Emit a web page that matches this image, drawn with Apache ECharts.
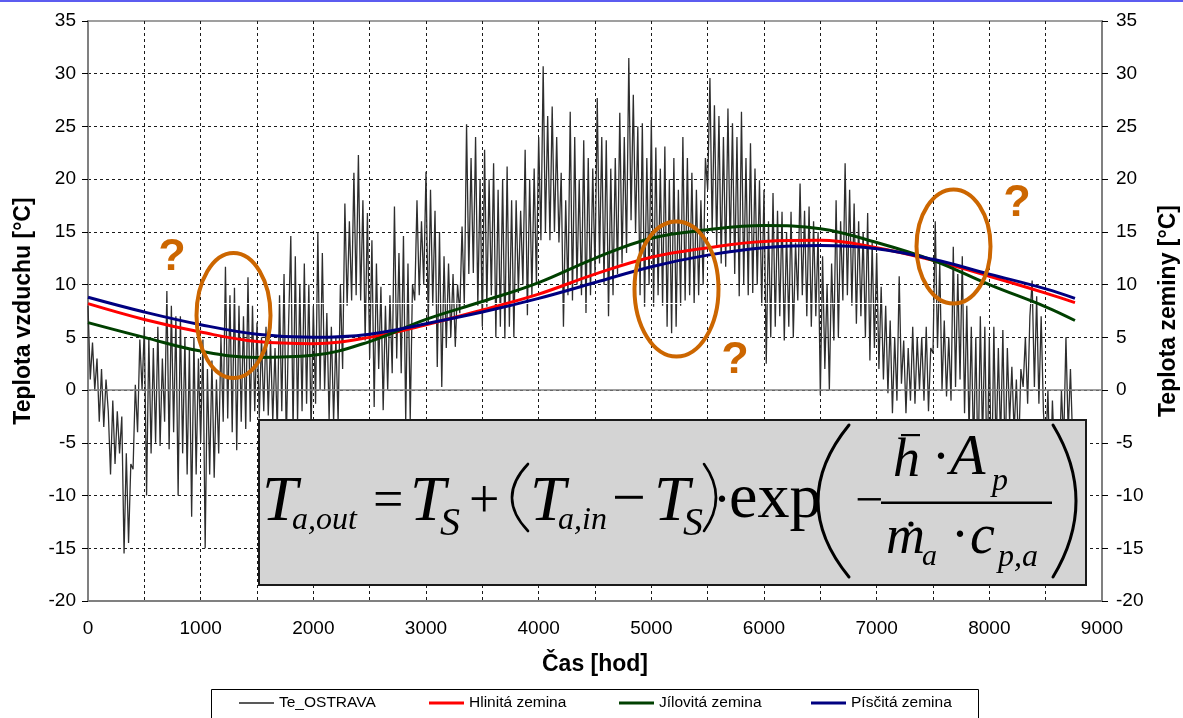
<!DOCTYPE html>
<html><head><meta charset="utf-8">
<script src="https://cdn.jsdelivr.net/npm/echarts@6/dist/echarts.min.js"></script>
<style>html,body{margin:0;padding:0;background:#fff}#c{width:1183px;height:718px}</style>
</head><body><div id="c"></div>
<script>
// ---- data ----
const OSTRAVA_STEP_H = 20; // sampling step of the outdoor temperature record [h]
const ostravaTemps = [
 8,1,4.5,0,3, -3,2,-3.5,1,-2, -8,-1,-7,-2,-6, -2.5,-15.5,-6,-14.5,-7, -7.5,0.5,-4,4.8,0,
 6,-10,5,-6,4, -5,6,-5.3,3,-3, 9.4,-5.6,8,-4,7, -10,7,-6,5,-8, 4,-12,5,-8,3,
 -5,4.8,-15,2,-8, 2.8,-8.3,1,-6,5, -3,11.7,-2.7,9,-4, 9.7,-5.7,8,-3,7, -3.7,10.7,-3,8,-2,
 6.4,-2.7,5,-2,6, -2.4,4.8,-3,4,-4, 9,-2,11,-5,6, 14.6,-4,12.7,-3,10, -2,12,-1.3,10,-4,
 8,-1.3,14.9,0,13, 0,7.3,-2.8,6,-3, 5,-3,10,2,17.7, 8,16,8.5,20.6,9, 22.3,8.5,18,4.7,16.8,
 3,14.2,-1.6,12,2, 9.8,-1.9,8,0,9, 1.6,17.4,3,13,1.6, 14.6,-3,12,-2.8,10, 8.5,18,9,16,10,
 20.7,6.3,19,8,17, 2.2,15,0.3,12.7,4, 12,5,11,4.1,10, 7.3,15.5,8,25.2,11, 22,11.1,24,8,20,
 6,22.8,7.9,20,9, 21.5,5,19,6,20, 4.9,21.2,6,18,5, 18,9.2,17,10,22.8, 7.1,20,9,21,10,
 24,14.2,30.7,15,26, 14.2,26.9,15,24,14, 20.6,6,18,9,26.4, 8.5,24,10,20,9, 23.7,7.3,22,9,21,
 11.1,27.7,12,24,10, 23.7,7,21,9,22, 11,26.3,12,24,13, 31.5,16.1,28,15,25, 9,25.3,7.9,22,10,
 25.6,7.9,23,9,21, 8,23.1,6,20,5.4, 22,6,19,8,24, 8.5,22,9,20.6,8.2, 19,9,18,10,22,
 19,29.6,15,27,13.6, 26,12,24,11.7,26.7, 13,25.3,11,24,8.9, 26.4,10,22,9,23.4, 9.2,21,10,19.9,8,
 19,2.5,16,5,18.7, 6,17,7,16.9,4.7, 15,6,16.9,5,14, 8.5,19.6,9,17,7, 17.4,6,16,7,15,
 -0.5,12.7,2,10,0, 12,4.7,18,5,16, 8.5,21.5,9,19,8, 17.7,6.3,16,7,15, 5,16.8,2.8,14,4,
 13,2,9.8,1,8, -0.3,6.6,-2.2,5,-1, 10.8,0.6,4.7,-2.2,4, -1,6,-1.3,5,0, 5,-1,6,-2,4,
 3.5,16,4,12,0, 6.6,-0.6,5,-1,13.6, 0.3,11,1,12.7,-2.2, 8,-4,6,-6,5, -8,7,-5,6,-9,
 5,-10,6,-6,4, -5,5.7,-7,4,-3, 2.2,-4,1,-6,2, 0.3,5,-1.3,7,10.4, 0.3,8.9,-1.3,7,-2,
 -6,0,-9,-1,-7, -3,-8,0,-5,5, -4,2,-5
];
const soilHours = [0,500,1000,1500,2000,2500,3000,3500,4000,4500,5000,5500,6000,6500,7000,7500,8000,8500,8760];
const hlinita  = [8.2,6.7,5.5,4.6,4.4,5.0,6.2,7.6,9.1,11.0,12.6,13.5,14.1,14.2,13.5,12.3,10.8,9.2,8.3];
const jilovita = [6.4,5.0,3.7,3.1,3.3,4.6,6.7,8.4,10.2,12.5,14.4,15.2,15.6,15.3,14.0,12.3,10.0,7.9,6.6];
const piscita  = [8.8,7.4,6.2,5.3,5.0,5.3,6.3,7.4,8.7,10.2,11.7,12.8,13.5,13.7,13.4,12.4,11.0,9.6,8.7];
const seriesNames = ['Te_OSTRAVA','Hlinitá zemina','Jílovitá zemina','Písčitá zemina'];
const xTickLabels = [0,1000,2000,3000,4000,5000,6000,7000,8000,9000];

// ---- chart ----
const chart = echarts.init(document.getElementById('c'), null, {renderer:'canvas'});
const ostravaData = ostravaTemps.map((v,i)=>[i*OSTRAVA_STEP_H, v]);
const pair = arr => soilHours.map((h,i)=>[h, arr[i]]);
const gridDash = {color:'#1a1a1a', width:1, type:[3,3]};
const axisFont = {fontFamily:'Liberation Sans', fontSize:19, color:'#000'};
const nameFont = {fontFamily:'Liberation Sans', fontSize:23, fontWeight:'bold', color:'#000'};
const ORANGE = '#cc6600';
const SERIF = 'Liberation Serif';

function ft(x, base, str, fs, italic, align){
  return {type:'text', x:x, y:base-0.34*fs, z:101,
    style:{text:str, fontFamily:SERIF, fontSize:fs, fontStyle: italic?'italic':'normal',
      fill:'#000', align:align||'left', verticalAlign:'middle'}};
}
function paren(x1,y1,y2,cpx,w){
  return {type:'bezierCurve', z:101, shape:{x1:x1,y1:y1,x2:x1,y2:y2,cpx1:cpx,cpy1:(y1+y2)/2},
    style:{fill:'none', stroke:'#000', lineWidth:w, lineCap:'round'}};
}

const formula = [
  ft(262,525,'T',64,true), ft(292,531,'a,out',32,true),
  ft(373,521,'=',54,false),
  ft(410,525,'T',64,true), ft(440,538,'S',40,true),
  ft(469,521,'+',54,false),
  paren(528,464,531,496,2.6),
  ft(530,525,'T',64,true), ft(558,531,'a,in',32,true),
  ft(612,522,'−',60,false),
  ft(654,525,'T',64,true), ft(683,538,'S',40,true),
  paren(704,464,531,728,2.6),
  ft(722,521,'·',54,false,'center'),
  ft(729,522,'exp',64,false),
  paren(849,425,577,787,3),
  ft(855,520,'−',50,false),
  ft(893,480,'h',54,true),
  ft(941,478,'·',54,false,'center'),
  ft(950,478,'A',58,true), ft(992,492,'p',32,true),
  ft(886,557,'m',54,true), ft(922,567,'a',30,true),
  ft(960,556,'·',54,false,'center'),
  ft(970,557,'c',56,true), ft(998,568,'p,a',32,true),
  paren(1053,425,577,1099,3),
  {type:'rect', z:101, shape:{x:881,y:501.5,width:171,height:2.5}, style:{fill:'#000'}},
  {type:'rect', z:101, shape:{x:901,y:434,width:19,height:2.2}, style:{fill:'#000'}},
  {type:'circle', z:101, shape:{cx:911,cy:524,r:2.6}, style:{fill:'#000'}}
];

const legendX = [239, 429, 619, 811];
const legends = seriesNames.map((n,i)=>({
  data:[n], left:legendX[i], top:695, icon:'rect', itemWidth:35, itemHeight: i===0?1.4:3,
  itemGap:3, padding:0, selectedMode:false,
  textStyle:{fontFamily:'Liberation Sans', fontSize:15.5, color:'#000'}
}));

const soilSeries = (i, arr, color) => ({name:seriesNames[i], type:'line', yAxisIndex:1, data:pair(arr),
  symbol:'none', smooth:0.4, z:3, lineStyle:{color:color, width:3}, itemStyle:{color:color}});

const option = {
  animation:false,
  backgroundColor:'#fff',
  grid:{left:88, right:81, top:21, bottom:117, show:true, borderColor:'#808080', borderWidth:1.5,
    containLabel:false, outerBoundsMode:'none'},
  legend: legends,
  xAxis:{type:'value', min:0, max:9000, interval:500,
    name:'Čas [hod]', nameLocation:'middle', nameGap:52, nameTextStyle:nameFont,
    axisLine:{show:true, onZero:false, lineStyle:{color:'#808080', width:2}},
    axisTick:{show:false},
    axisLabel:Object.assign({margin:18, formatter:v=> xTickLabels.indexOf(v)>=0 ? String(v) : ''}, axisFont),
    splitLine:{show:true, showMinLine:false, showMaxLine:false, lineStyle:gridDash}},
  yAxis:[
    {type:'value', min:-20, max:35, interval:5, position:'left',
      name:'Teplota vzduchu [°C]', nameLocation:'middle', nameRotate:90, nameGap:53, nameTextStyle:nameFont,
      axisLine:{show:true, lineStyle:{color:'#808080', width:2}},
      axisTick:{show:true, length:6, lineStyle:{color:'#000'}},
      axisLabel:Object.assign({margin:12}, axisFont),
      splitLine:{show:true, showMinLine:false, showMaxLine:false, lineStyle:gridDash}},
    {type:'value', min:-20, max:35, interval:5, position:'right',
      name:'Teplota zeminy [°C]', nameLocation:'middle', nameRotate:90, nameGap:55, nameTextStyle:nameFont,
      axisLine:{show:true, lineStyle:{color:'#808080', width:2}},
      axisTick:{show:true, length:6, lineStyle:{color:'#000'}},
      axisLabel:Object.assign({margin:14}, axisFont),
      splitLine:{show:false}}
  ],
  series:[
    {name:seriesNames[0], type:'line', data:ostravaData, symbol:'none', z:1,
      lineStyle:{color:'#2e2e2e', width:1.3}, itemStyle:{color:'#222'},
      markLine:{silent:true, symbol:['none','none'], label:{show:false},
        lineStyle:{color:'#808080', width:1.5, type:'solid'}, data:[{yAxis:0}]}},
    soilSeries(1, hlinita, '#ff0000'),
    soilSeries(2, jilovita, '#004000'),
    soilSeries(3, piscita, '#000080')
  ],
  graphic:[
    {type:'rect', z:50, shape:{x:0,y:0,width:1183,height:2}, style:{fill:'#5c5cf0'}},
    {type:'rect', z:2, shape:{x:89,y:303,width:1012,height:1}, style:{fill:'#ffffff'}},
    {type:'rect', z:100, shape:{x:259,y:420,width:827,height:165}, style:{fill:'#d4d4d4', stroke:'#1a1a1a', lineWidth:2}},
    ...formula,
    {type:'ellipse', z:102, shape:{cx:233.5,cy:315.5,rx:37,ry:62.5}, style:{fill:'none', stroke:ORANGE, lineWidth:4}},
    {type:'ellipse', z:102, shape:{cx:676.5,cy:289,rx:42,ry:67.5}, style:{fill:'none', stroke:ORANGE, lineWidth:4}},
    {type:'ellipse', z:102, shape:{cx:953.5,cy:246.5,rx:37,ry:57}, style:{fill:'none', stroke:ORANGE, lineWidth:4}},
    {type:'text', z:102, x:172, y:258, style:{text:'?', fontFamily:'Liberation Sans', fontWeight:'bold', fontSize:45, fill:ORANGE, align:'center', verticalAlign:'middle'}},
    {type:'text', z:102, x:735, y:361, style:{text:'?', fontFamily:'Liberation Sans', fontWeight:'bold', fontSize:45, fill:ORANGE, align:'center', verticalAlign:'middle'}},
    {type:'text', z:102, x:1017, y:204, style:{text:'?', fontFamily:'Liberation Sans', fontWeight:'bold', fontSize:45, fill:ORANGE, align:'center', verticalAlign:'middle'}},
    {type:'rect', z:50, shape:{x:211.5,y:689.5,width:767,height:40}, style:{fill:'none', stroke:'#000', lineWidth:1}}
  ]
};
chart.setOption(option);
</script></body></html>
